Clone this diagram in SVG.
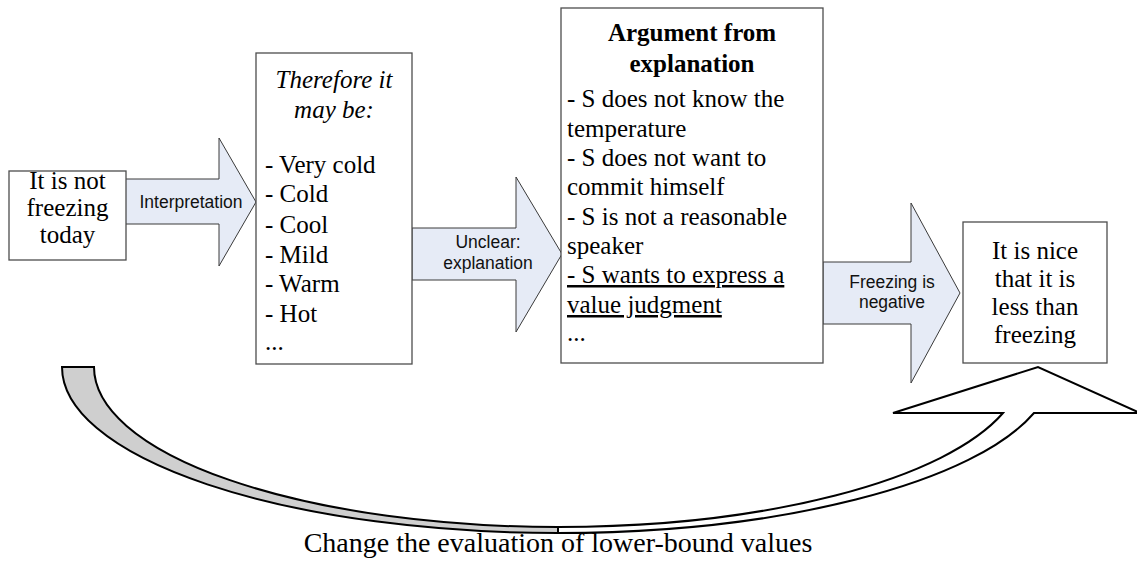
<svg xmlns="http://www.w3.org/2000/svg" width="1137" height="576" viewBox="0 0 1137 576">
<style>
.box{fill:#fff;stroke:#4d4d4d;stroke-width:1.3}
.arr{fill:#e6ebf6;stroke:#3a3a3a;stroke-width:1}
.t{font-family:"Liberation Serif","Times New Roman",serif;font-size:25px;fill:#000}
.c{text-anchor:middle}
.lab{font-family:"Liberation Sans",Arial,sans-serif;font-size:17.5px;fill:#111;text-anchor:middle}
.big{fill:#fff;stroke:#000;stroke-width:2;stroke-linejoin:miter}
</style>
<rect width="1137" height="576" fill="#fff"/>
<g id="connectors">
  <polygon class="arr" points="125,179 219,179 219,138 256,202 219,266 219,224 125,224"/>
  <text class="lab" x="191" y="208">Interpretation</text>
  <polygon class="arr" points="412,228 516,228 516,177 562,254 516,332 516,280 412,280"/>
  <text class="lab" x="488" y="248">Unclear:</text>
  <text class="lab" x="488" y="269">explanation</text>
  <polygon class="arr" points="823,262 911,262 911,203 960,293 911,383 911,324 823,324"/>
  <text class="lab" x="892" y="288">Freezing is</text>
  <text class="lab" x="892" y="308">negative</text>
  <g id="curved-arrow">
    <path d="M62,367 A496,166 0 0 0 558,533 L558,527 A464,160 0 0 1 94,367 Z" fill="#cfcfcf" stroke="#000" stroke-width="2"/>
    <path class="big" d="M558,527 A464,160 0 0 0 1003,413 L893,413 L1038,367 L1140,413 L1034,413 A496,166 0 0 1 558,533 Z"/>
  </g>
  <text class="t c" x="558" y="552" style="font-size:28px">Change the evaluation of lower-bound values</text>
</g>
<g id="node-not-freezing">
  <rect class="box" x="9" y="171" width="117" height="89"/>
  <text class="t c" x="67.5" y="189">It is not</text>
  <text class="t c" x="67.5" y="216">freezing</text>
  <text class="t c" x="67.5" y="243">today</text>
</g>
<g id="node-may-be">
  <rect class="box" x="256" y="53" width="156" height="311"/>
  <text class="t c" x="334" y="88" font-style="italic">Therefore it</text>
  <text class="t c" x="334" y="118" font-style="italic">may be:</text>
  <text class="t" x="265" y="173">- Very cold</text>
  <text class="t" x="265" y="202">- Cold</text>
  <text class="t" x="265" y="233">- Cool</text>
  <text class="t" x="265" y="263">- Mild</text>
  <text class="t" x="265" y="292">- Warm</text>
  <text class="t" x="265" y="322">- Hot</text>
  <text class="t" x="265" y="350">...</text>
</g>
<g id="node-argument">
  <rect class="box" x="561" y="8" width="262" height="355"/>
  <text class="t c" x="692" y="41" font-weight="bold">Argument from</text>
  <text class="t c" x="692" y="72" font-weight="bold">explanation</text>
  <text class="t" x="567" y="107">- S does not know the</text>
  <text class="t" x="567" y="137">temperature</text>
  <text class="t" x="567" y="166">- S does not want to</text>
  <text class="t" x="567" y="195">commit himself</text>
  <text class="t" x="567" y="225">- S is not a reasonable</text>
  <text class="t" x="567" y="254">speaker</text>
  <text class="t" x="567" y="283" text-decoration="underline">- S wants to express a</text>
  <text class="t" x="567" y="313" text-decoration="underline">value judgment</text>
  <text class="t" x="567" y="341">...</text>
</g>
<g id="node-nice">
  <rect class="box" x="963" y="222" width="144" height="141"/>
  <text class="t c" x="1035" y="259">It is nice</text>
  <text class="t c" x="1035" y="287">that it is</text>
  <text class="t c" x="1035" y="315">less than</text>
  <text class="t c" x="1035" y="343">freezing</text>
</g>
</svg>
